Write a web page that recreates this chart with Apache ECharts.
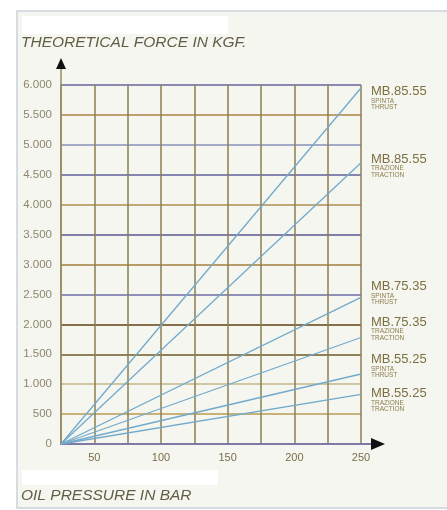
<!DOCTYPE html>
<html>
<head>
<meta charset="utf-8">
<script src="https://cdn.jsdelivr.net/npm/echarts@6/dist/echarts.min.js"></script>
<style>
html,body{margin:0;padding:0;background:#ffffff;}
#chart{width:447px;height:510px;}
</style>
</head>
<body>
<div id="chart"></div>
<script>
// ---- data ----
const pressure = [25, 250];                 // bar (x)
const mb8555Spinta   = [0, 5950];          // kgf
const mb8555Trazione = [0, 4700];
const mb7535Spinta   = [0, 2450];
const mb7535Trazione = [0, 1780];
const mb5525Spinta   = [0, 1170];
const mb5525Trazione = [0, 830];
const seriesNames = ['MB.85.55', 'MB.85.55', 'MB.75.35', 'MB.75.35', 'MB.55.25', 'MB.55.25'];
const seriesSub1  = ['SPINTA', 'TRAZIONE', 'SPINTA', 'TRAZIONE', 'SPINTA', 'TRAZIONE'];
const seriesSub2  = ['THRUST', 'TRACTION', 'THRUST', 'TRACTION', 'THRUST', 'TRACTION'];
const xTicks = [50, 100, 150, 200, 250];
const yTitle = 'THEORETICAL FORCE IN KGF.';
const xTitle = 'OIL PRESSURE IN BAR';

const allValues = [mb8555Spinta, mb8555Trazione, mb7535Spinta, mb7535Trazione, mb5525Spinta, mb5525Trazione];
const labelOffsets = [[0, 10], [0, 3], [0, -4], [0, -9], [0, -8], [0, 6]];

const hColors = ['#8a8ab0', '#c8b27a', '#cfc6a4', '#8f8258', '#86704a', '#9090b8',
                 '#b89c6a', '#7f80a8', '#c0a878', '#8586b0', '#a3aac8', '#c0a070', '#8a8ab0'];

const FONT = 'Liberation Sans, Arial';
const chart = echarts.init(document.getElementById('chart'), null, {renderer: 'canvas'});

const series = allValues.map((vals, i) => ({
  type: 'line',
  name: seriesNames[i] + ' ' + seriesSub1[i],
  data: pressure.map((p, k) => [p, vals[k]]),
  showSymbol: false,
  symbol: 'none',
  lineStyle: {color: '#72aacb', width: 1.3},
  z: 5,
  endLabel: {
    show: true,
    distance: 10,
    offset: labelOffsets[i],
    formatter: () => '{a|' + seriesNames[i] + '}\n{b|' + seriesSub1[i] + '}\n{b|' + seriesSub2[i] + '}',
    rich: {
      a: {fontFamily: FONT, fontSize: 13, color: '#7d7040', lineHeight: 12},
      b: {fontFamily: FONT, fontSize: 6.5, color: '#8a7d4a', lineHeight: 6.5}
    }
  }
}));

const option = {
  backgroundColor: '#ffffff',
  animation: false,
  grid: {left: 61, right: 86, top: 85, bottom: 66, containLabel: false},
  xAxis: {
    type: 'value', min: 25, max: 250, interval: 25,
    axisLine: {show: true, lineStyle: {color: '#7d7aa8', width: 2}},
    axisTick: {show: false},
    axisLabel: {
      color: '#7a6e48', fontSize: 11, fontFamily: FONT, margin: 8,
      formatter: v => (xTicks.indexOf(v) >= 0 ? String(v) : '')
    },
    splitLine: {show: true, lineStyle: {color: '#8a7f52', width: 1.5}}
  },
  yAxis: {
    type: 'value', min: 0, max: 6000, interval: 500,
    axisLine: {show: true, lineStyle: {color: '#9a8c5e', width: 1.5}},
    axisTick: {show: false},
    axisLabel: {
      color: '#8c866c', fontSize: 11.5, fontFamily: FONT, margin: 9,
      formatter: v => v >= 1000 ? (Math.floor(v / 1000) + '.' + String(v % 1000).padStart(3, '0')) : String(v)
    },
    splitLine: {show: true, lineStyle: {color: hColors, width: 1.8}}
  },
  series: series
};
chart.setOption(option);

// frame, titles and axis arrows extending beyond the plot (decoration)
const t = chart.convertToPixel({gridIndex: 0}, [25, 6000]);
const r = chart.convertToPixel({gridIndex: 0}, [250, 0]);
chart.setOption({
  graphic: [
    {type: 'rect', z: -10, shape: {x: 17, y: 11, width: 440, height: 497},
     style: {fill: '#f6f6f1', stroke: '#c9d2dc', lineWidth: 1.5}},
    {type: 'rect', z: -9, shape: {x: 22, y: 16, width: 206, height: 18}, style: {fill: '#ffffff'}},
    {type: 'rect', z: -9, shape: {x: 22, y: 470, width: 196, height: 15}, style: {fill: '#ffffff'}},
    {type: 'text', left: 21, top: 35,
     style: {text: yTitle, fontFamily: FONT, fontStyle: 'italic', fontSize: 15.5, fill: '#625d44'}},
    {type: 'text', left: 21, top: 488,
     style: {text: xTitle, fontFamily: FONT, fontStyle: 'italic', fontSize: 15.5, fill: '#625d44'}},
    {type: 'line', z: 10, shape: {x1: t[0], y1: t[1], x2: t[0], y2: t[1] - 18}, style: {stroke: '#9a8c5e', lineWidth: 1.5}},
    {type: 'polygon', z: 10, shape: {points: [[t[0] - 5, t[1] - 16], [t[0] + 5, t[1] - 16], [t[0], t[1] - 27]]}, style: {fill: '#111111'}},
    {type: 'line', z: 10, shape: {x1: r[0], y1: r[1], x2: r[0] + 12, y2: r[1]}, style: {stroke: '#7d7aa8', lineWidth: 2}},
    {type: 'polygon', z: 10, shape: {points: [[r[0] + 10, r[1] - 6], [r[0] + 10, r[1] + 6], [r[0] + 24, r[1]]]}, style: {fill: '#111111'}}
  ]
});
</script>
</body>
</html>
